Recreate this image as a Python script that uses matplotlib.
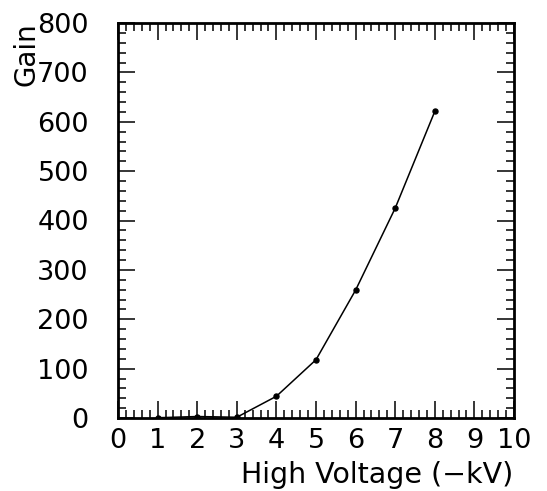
import matplotlib
matplotlib.use("Agg")
import matplotlib.pyplot as plt
from matplotlib.ticker import MultipleLocator

voltage = [1, 2, 3, 4, 5, 6, 7, 8]
gain = [0.5, 3, 1.5, 44, 118, 259, 425, 621]

x_label = "High Voltage (\u2212kV)"
y_label = "Gain"

plt.rcParams['font.family'] = ['DejaVu Sans']

W, H = 547, 491
fig = plt.figure(figsize=(W/100, H/100), dpi=100)
ax = fig.add_axes([118/W, 1 - 418/H, (514-118)/W, (418-23)/H])

ax.plot(voltage, gain, color='black', lw=1.1, marker='o', markersize=3.6)
ax.set_xlim(0, 10)
ax.set_ylim(0, 800)
ax.xaxis.set_major_locator(MultipleLocator(1))
ax.xaxis.set_minor_locator(MultipleLocator(0.2))
ax.yaxis.set_major_locator(MultipleLocator(100))
ax.yaxis.set_minor_locator(MultipleLocator(20))
ax.tick_params(which='both', direction='in', top=True, right=True, width=1.1, color='black')
ax.tick_params(which='major', length=12, labelsize=19.5)
ax.tick_params(axis='x', which='major', pad=7)
ax.tick_params(axis='y', which='major', pad=21)
ax.tick_params(which='minor', length=6)
for s in ax.spines.values():
    s.set_linewidth(2)

fig.text(513/W, 1 - 483/H, x_label, fontsize=20.5, ha='right', va='baseline')
fig.text(27/W, 1 - 22/H, y_label, fontsize=20, rotation=90, ha='center', va='top')

fig.savefig("out.png", dpi=100)
